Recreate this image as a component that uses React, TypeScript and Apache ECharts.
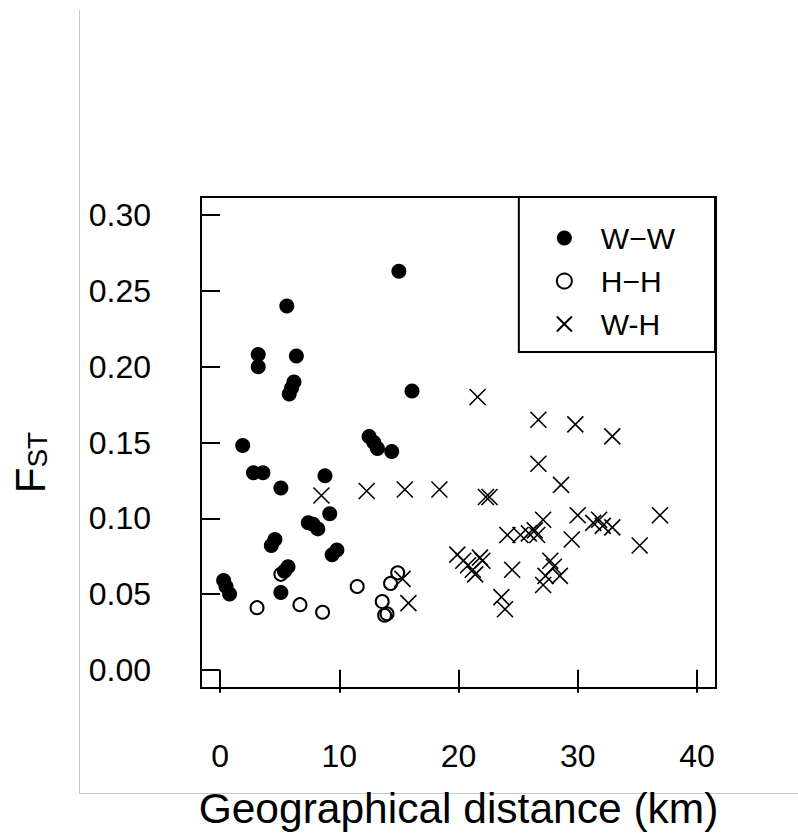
import React, { useEffect, useRef } from "react";
import * as echarts from "echarts";

const xTicks = [0, 10, 20, 30, 40];
const yTicks = [0, 0.05, 0.1, 0.15, 0.2, 0.25, 0.3];

const wwData: [number, number][] = [
  [15.0, 0.263], [5.6, 0.240], [3.2, 0.208], [3.2, 0.200], [6.4, 0.207],
  [6.2, 0.190], [6.0, 0.186], [5.8, 0.182], [16.1, 0.184], [1.9, 0.148],
  [12.5, 0.154], [12.9, 0.150], [13.2, 0.146], [14.4, 0.144], [2.8, 0.130],
  [3.6, 0.130], [5.1, 0.120], [8.8, 0.128], [9.2, 0.103], [7.4, 0.097],
  [7.8, 0.096], [8.2, 0.093], [4.6, 0.086], [4.3, 0.082], [9.8, 0.079],
  [9.4, 0.076], [5.7, 0.068], [5.4, 0.065], [0.3, 0.059], [0.5, 0.055],
  [0.8, 0.050], [5.1, 0.051],
];

const hhData: [number, number][] = [
  [5.1, 0.063], [3.1, 0.041], [6.7, 0.043], [8.6, 0.038], [11.5, 0.055],
  [14.9, 0.064], [14.3, 0.057], [13.6, 0.045], [13.8, 0.036], [14.0, 0.037],
];

const whData: [number, number][] = [
  [8.5, 0.115], [12.3, 0.118], [15.5, 0.119], [18.4, 0.119], [21.6, 0.180],
  [26.7, 0.165], [29.8, 0.162], [32.9, 0.154], [26.7, 0.136], [28.6, 0.122],
  [22.3, 0.114], [22.6, 0.114], [27.1, 0.099], [30.0, 0.102], [31.3, 0.097],
  [31.8, 0.099], [32.1, 0.095], [32.9, 0.094], [36.9, 0.102], [24.1, 0.089],
  [25.2, 0.089], [25.9, 0.090], [26.6, 0.089], [26.4, 0.092], [29.5, 0.086],
  [35.2, 0.082], [19.9, 0.076], [20.4, 0.072], [20.8, 0.069], [21.2, 0.066],
  [21.4, 0.063], [22.0, 0.072], [21.8, 0.074], [24.5, 0.066], [27.7, 0.072],
  [28.0, 0.068], [28.5, 0.062], [27.3, 0.062], [27.1, 0.056], [23.6, 0.048],
  [23.9, 0.040], [15.3, 0.060], [15.8, 0.044],
];

const seriesNames = ["W\u2212W", "H\u2212H", "W-H"];
const FONT = "'Liberation Sans', Arial, sans-serif";
const CROSS = "path://M0,0L10,10M10,0L0,10";

export default function App() {
  const ref = useRef<HTMLDivElement>(null);
  useEffect(() => {
    if (!ref.current) return;
    const chart = echarts.init(ref.current, null, { renderer: "svg" });
    chart.setOption({
      animation: false,
      backgroundColor: "#fff",
      grid: {
        left: 201, right: 82, top: 197, bottom: 148,
        show: true, borderColor: "#000", borderWidth: 2, backgroundColor: "transparent",
      },
      xAxis: {
        type: "value", min: -1.6, max: 41.6,
        name: "Geographical distance (km)", nameLocation: "middle", nameGap: 99,
        nameTextStyle: { fontSize: 42.5, fontFamily: FONT, color: "#000" },
        axisLine: { show: false },
        splitLine: { show: false },
        axisTick: { show: true, inside: false, length: 23, customValues: xTicks, lineStyle: { color: "#000", width: 2 } },
        axisLabel: { customValues: xTicks, fontSize: 32, fontFamily: FONT, color: "#000", margin: 52 },
      },
      yAxis: {
        type: "value", min: -0.012, max: 0.312,
        name: "{a|F}{b|ST}", nameLocation: "middle", nameGap: 150,
        nameTextStyle: {
          fontFamily: FONT, color: "#000", padding: [0, 40, 0, 0],
          rich: {
            a: { fontSize: 42, fontFamily: FONT, color: "#000", lineHeight: 42 },
            b: { fontSize: 28, fontFamily: FONT, color: "#000", lineHeight: 18, verticalAlign: "bottom" },
          },
        },
        axisLine: { show: false },
        splitLine: { show: false },
        axisTick: { show: true, inside: false, length: 19, customValues: yTicks, lineStyle: { color: "#000", width: 2 } },
        axisLabel: {
          customValues: yTicks, fontSize: 32, fontFamily: FONT, color: "#000", margin: 50,
          padding: [5, 0, 0, 0],
          formatter: (v: number) => v.toFixed(2),
        },
      },
      legend: {
        orient: "vertical", right: 83, top: 197,
        backgroundColor: "#fff", borderColor: "#000", borderWidth: 2, borderRadius: 0,
        padding: [26, 40, 13, 37], itemGap: 13, itemWidth: 15, itemHeight: 15,
        textStyle: { fontSize: 30, fontFamily: FONT, color: "#000", lineHeight: 30, padding: [0, 0, 0, 24] },
        data: [
          { name: seriesNames[0], icon: "circle" },
          { name: seriesNames[1], icon: "circle" },
          { name: seriesNames[2], icon: CROSS },
        ],
      },
      graphic: [
        { type: "line", shape: { x1: 79.5, y1: 10, x2: 79.5, y2: 793.5 }, style: { stroke: "#c8c8c8", lineWidth: 1 }, silent: true },
        { type: "line", shape: { x1: 79.5, y1: 793.5, x2: 798, y2: 793.5 }, style: { stroke: "#c8c8c8", lineWidth: 1 }, silent: true },
      ],
      series: [
        {
          name: seriesNames[0], type: "scatter", data: wwData, symbol: "circle", symbolSize: 15,
          itemStyle: { color: "#000", opacity: 1 },
        },
        {
          name: seriesNames[1], type: "scatter", data: hhData, symbol: "circle", symbolSize: 13,
          itemStyle: { color: "rgba(255,255,255,0)", borderColor: "#000", borderWidth: 2, opacity: 1 },
        },
        {
          name: seriesNames[2], type: "scatter", data: whData, symbol: CROSS, symbolSize: 16,
          itemStyle: { color: "rgba(255,255,255,0)", borderColor: "#000", borderWidth: 1.6, opacity: 1 },
        },
      ],
    });
    return () => chart.dispose();
  }, []);
  return (
    <div
      ref={ref}
      style={{ position: "fixed", left: 0, top: 0, width: 798, height: 836 }}
    />
  );
}
